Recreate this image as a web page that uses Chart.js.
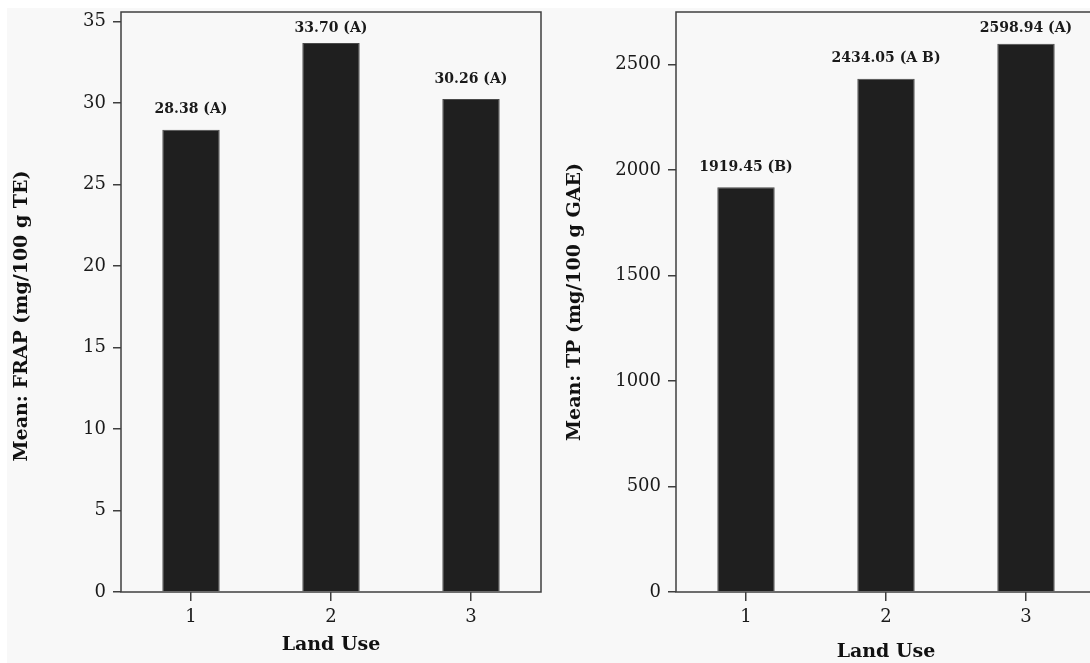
<!DOCTYPE html>
<html>
<head>
<meta charset="utf-8">
<script src="https://cdn.jsdelivr.net/npm/chart.js@4.4.1/dist/chart.umd.min.js"></script>
<style>
  html, body { margin: 0; padding: 0; background: #ffffff; overflow: hidden; }
  body { width: 1090px; height: 663px; position: relative; }
  #paper { position: absolute; left: 7px; top: 8px; right: 0; bottom: 0; background: #f8f8f8; }
  canvas { position: absolute; top: 0; }
  #frapChart { left: 0; }
  #tpChart { left: 548px; }
</style>
</head>
<body>
<div id="paper"></div>
<canvas id="frapChart" width="548" height="663"></canvas>
<canvas id="tpChart" width="560" height="663"></canvas>
<script>
// land use categories
const landUse = ['1', '2', '3'];

// FRAP means (mg/100 g TE) and grouping letters
const frapMeans = [28.38, 33.70, 30.26];
const frapGroups = ['A', 'A', 'A'];

// total phenolics means (mg/100 g GAE) and grouping letters
const tpMeans = [1919.45, 2434.05, 2598.94];
const tpGroups = ['B', 'A B', 'A'];

// y axis ticks and upper limits
const frapTicks = [0, 5, 10, 15, 20, 25, 30, 35];
const tpTicks = [0, 500, 1000, 1500, 2000, 2500];
const frapMax = 35.6;
const tpMax = 2750;

const serif = '"DejaVu Serif", "Liberation Serif", serif';
const axisColor = '#3f3f3f';

// box around the plotting area
const frameBox = {
  id: 'frameBox',
  afterDraw(chart) {
    const a = chart.chartArea;
    const ctx = chart.ctx;
    ctx.save();
    ctx.strokeStyle = axisColor;
    ctx.lineWidth = 1.5;
    ctx.strokeRect(a.left, a.top, a.right - a.left, a.bottom - a.top);
    ctx.restore();
  }
};

// "value (group)" text over each bar
const barText = {
  id: 'barText',
  afterDatasetsDraw(chart, args, opts) {
    const ctx = chart.ctx;
    const meta = chart.getDatasetMeta(0);
    ctx.save();
    ctx.font = 'bold 14px ' + serif;
    ctx.fillStyle = '#1a1a1a';
    ctx.textAlign = 'center';
    ctx.textBaseline = 'middle';
    meta.data.forEach((bar, i) => {
      const v = chart.data.datasets[0].data[i];
      const txt = v.toFixed(2) + ' (' + opts.groups[i] + ')';
      const y = Math.max(bar.y - 20, chart.chartArea.top + 16);
      ctx.fillText(txt, bar.x, y);
    });
    ctx.restore();
  }
};

// rotated y axis title, drawn at a given x and shifted along the axis
const yTitle = {
  id: 'yTitle',
  afterDraw(chart, args, opts) {
    const a = chart.chartArea;
    const ctx = chart.ctx;
    ctx.save();
    ctx.font = 'bold 19px ' + serif;
    ctx.fillStyle = '#111';
    ctx.textAlign = 'center';
    ctx.textBaseline = 'middle';
    ctx.translate(opts.x, (a.top + a.bottom) / 2 + opts.shift);
    ctx.rotate(-Math.PI / 2);
    ctx.fillText(opts.text, 0, 0);
    ctx.restore();
  }
};

function makeChart(id, values, groups, ticks, max, title, titleX, titleShift, yWidth, padRight, xTitlePad) {
  return new Chart(document.getElementById(id), {
    type: 'bar',
    data: {
      labels: landUse,
      datasets: [{
        data: values,
        backgroundColor: '#1f1f1f',
        borderColor: '#4a4a4a',
        borderWidth: 1,
        barPercentage: 0.41,
        categoryPercentage: 1
      }]
    },
    options: {
      responsive: false,
      animation: false,
      layout: { padding: { top: 12, right: padRight, left: 0, bottom: 0 } },
      plugins: {
        legend: { display: false },
        tooltip: { enabled: false },
        barText: { groups: groups },
        yTitle: { text: title, x: titleX, shift: titleShift }
      },
      scales: {
        x: {
          border: { display: false },
          grid: { offset: false, drawOnChartArea: false, tickLength: 9, color: axisColor, lineWidth: 1.5 },
          ticks: { padding: 6, color: '#1a1a1a', font: { family: serif, size: 18 } },
          title: {
            display: true, text: 'Land Use', color: '#111',
            font: { family: serif, size: 19, weight: 'bold', lineHeight: 1.1 },
            padding: { top: 0, bottom: xTitlePad }
          },
          afterFit(scale) {
            scale.height = 71;
            scale.paddingLeft = 0;
            scale.paddingRight = 0;
          }
        },
        y: {
          min: 0,
          max: max,
          border: { display: false },
          grid: { drawOnChartArea: false, tickLength: 8, color: axisColor, lineWidth: 1.5 },
          ticks: {
            padding: 7, color: '#1a1a1a', font: { family: serif, size: 18 },
            callback: (v) => String(v)
          },
          afterBuildTicks(scale) { scale.ticks = ticks.map(v => ({ value: v })); },
          afterFit(scale) {
            scale.width = yWidth;
            scale.paddingTop = 0;
            scale.paddingBottom = 0;
          }
        }
      }
    },
    plugins: [frameBox, barText, yTitle]
  });
}

makeChart('frapChart', frapMeans, frapGroups, frapTicks, frapMax, 'Mean: FRAP (mg/100 g TE)', 22, 14, 121, 7, 7);
makeChart('tpChart', tpMeans, tpGroups, tpTicks, tpMax, 'Mean: TP (mg/100 g GAE)', 27, 0, 128, 12, 0);
</script>
</body>
</html>
